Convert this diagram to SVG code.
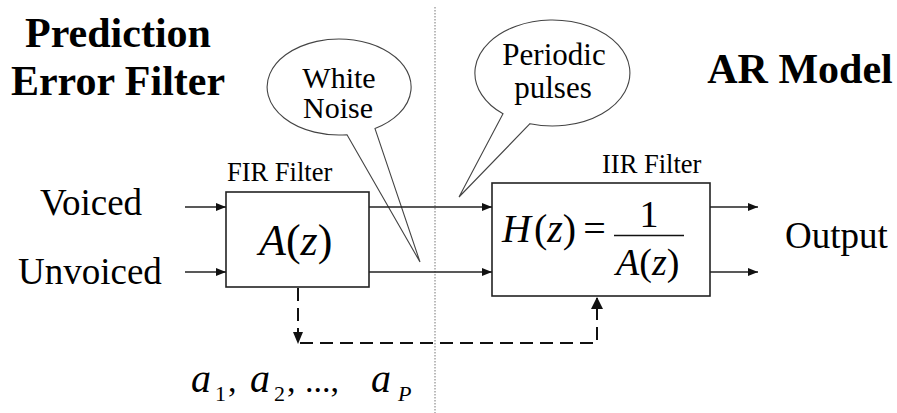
<svg xmlns="http://www.w3.org/2000/svg" width="897" height="413" viewBox="0 0 897 413">
<style>
  text{font-family:'Liberation Serif','Tinos','Times New Roman','DejaVu Serif',serif;fill:#000}
  .b{font-weight:bold}
  .i{font-style:italic}
  .box{fill:#fff;stroke:#222;stroke-width:1.6}
  .ln{fill:none;stroke:#222;stroke-width:1.6}
  .dash{fill:none;stroke:#111;stroke-width:2;stroke-dasharray:13 7}
  .bub{fill:#fff;stroke:#444;stroke-width:1.1}
</style>
<defs>
  <marker id="ah" viewBox="0 0 10 8" refX="10" refY="4" markerWidth="10" markerHeight="8" markerUnits="userSpaceOnUse" orient="auto">
    <path d="M0,0 L10,4 L0,8 Z" fill="#111"/>
  </marker>
  <marker id="ahd" viewBox="0 0 12 10" refX="12" refY="5" markerWidth="12" markerHeight="10" markerUnits="userSpaceOnUse" orient="auto">
    <path d="M0,0 L12,5 L0,10 Z" fill="#111"/>
  </marker>
</defs>
<rect width="897" height="413" fill="#fff"/>

<!-- divider -->
<line x1="435" y1="7" x2="435" y2="413" stroke="#777" stroke-width="1" stroke-dasharray="1.5 1.5"/>

<g font-family="Liberation Serif, serif">
<!-- titles -->
<g id="title-left">
  <text class="b" x="118" y="47" font-size="42" text-anchor="middle">Prediction</text>
  <text class="b" x="118" y="95" font-size="42" text-anchor="middle">Error Filter</text>
</g>
<g id="title-right">
  <text class="b" x="800" y="83" font-size="42" text-anchor="middle">AR Model</text>
</g>

<!-- input labels -->
<g id="voiced"><text x="40" y="215" font-size="37">Voiced</text></g>
<g id="unvoiced"><text x="18" y="284" font-size="37">Unvoiced</text></g>
<g id="output"><text x="785" y="248" font-size="37">Output</text></g>

<!-- FIR -->
<g id="fir">
  <text x="227" y="181" font-size="26.5">FIR Filter</text>
  <rect class="box" x="226" y="192" width="143" height="95"/>
  <text x="259" y="255" font-size="44"><tspan class="i">A</tspan>(<tspan class="i">z</tspan>)</text>
</g>

<!-- IIR -->
<g id="iir">
  <text x="602" y="173" font-size="26.5">IIR Filter</text>
  <rect class="box" x="492" y="183" width="218" height="113"/>
  <text x="502" y="242" font-size="40"><tspan class="i">H</tspan><tspan dx="3">(</tspan><tspan class="i">z</tspan>)<tspan dx="7">=</tspan></text>
  <text x="649" y="227" font-size="38" text-anchor="middle">1</text>
  <line x1="614" y1="235.5" x2="684" y2="235.5" stroke="#111" stroke-width="1.5"/>
  <text x="616" y="275" font-size="38"><tspan class="i">A</tspan>(<tspan class="i">z</tspan>)</text>
</g>

<!-- coefficients -->
<g id="coeffs">
  <text class="i" x="191" y="392" font-size="40">a</text>
  <text x="215" y="401" font-size="22">1</text>
  <text x="228" y="392" font-size="34">,</text>
  <text class="i" x="250" y="392" font-size="40">a</text>
  <text x="274" y="401" font-size="22">2</text>
  <text x="287" y="392" font-size="34">,</text>
  <text x="305" y="392" font-size="34">...,</text>
  <text class="i" x="371" y="392" font-size="40">a</text>
  <text class="i" x="398" y="401" font-size="22">P</text>
</g>

<!-- bubbles -->
<g id="bubble-white-noise">
  <path class="bub" d="M347,134.7 L420,262 L375,128.6 A72,48 0 1 0 347,134.7 Z"/>
  <text x="339" y="88" font-size="30" text-anchor="middle">White</text>
  <text x="338" y="118" font-size="30" text-anchor="middle">Noise</text>
</g>
<g id="bubble-periodic">
  <path class="bub" d="M503,113.8 L459,197 L530,123.7 A77.5,53 0 1 0 503,113.8 Z"/>
  <text x="554" y="65" font-size="31" text-anchor="middle">Periodic</text>
  <text x="553" y="98" font-size="31" text-anchor="middle">pulses</text>
</g>
</g>

<!-- connectors -->
<g id="connectors">
  <line class="ln" x1="185" y1="207" x2="226" y2="207" marker-end="url(#ah)"/>
  <line class="ln" x1="185" y1="272" x2="226" y2="272" marker-end="url(#ah)"/>
  <line class="ln" x1="369" y1="207" x2="492" y2="207" marker-end="url(#ah)"/>
  <line class="ln" x1="369" y1="272" x2="492" y2="272" marker-end="url(#ah)"/>
  <line class="ln" x1="710" y1="207" x2="758" y2="207" marker-end="url(#ah)"/>
  <line class="ln" x1="710" y1="272" x2="758" y2="272" marker-end="url(#ah)"/>
  <line class="dash" x1="298" y1="288" x2="298" y2="344" marker-end="url(#ahd)"/>
  <path class="dash" d="M300,343 H597 V298"/>
  <path d="M591,309 L597,297 L603,309 Z" fill="#111"/>
</g>
</svg>
